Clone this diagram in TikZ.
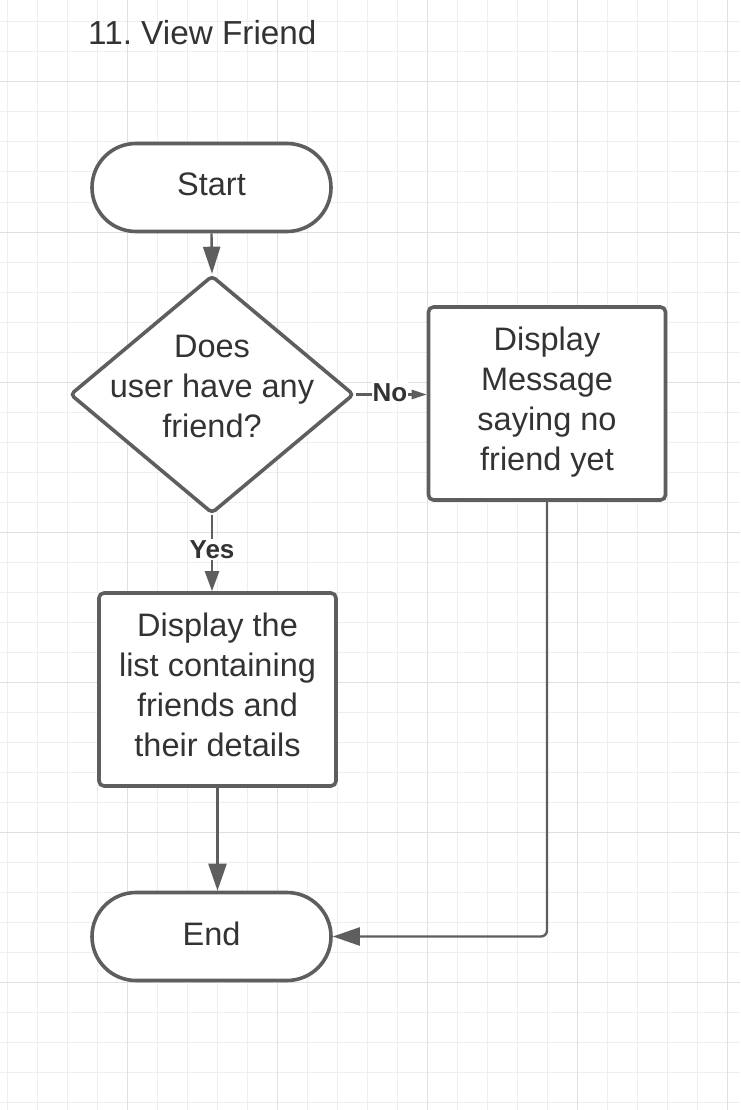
\documentclass[tikz,border=0pt]{standalone}
\usepackage{fontspec}
\setmainfont{Liberation Sans}
\usetikzlibrary{arrows.meta,shapes.geometric}
\definecolor{strokec}{RGB}{94,94,94}
\definecolor{textc}{RGB}{51,51,51}
\definecolor{gridminor}{RGB}{238,238,238}
\definecolor{gridmajor}{RGB}{224,224,224}
\tikzset{
  minorline/.style={draw=gridminor,line width=1pt},
  majorline/.style={draw=gridmajor,line width=1pt},
  body/.style={font=\fontsize{32.5}{40}\selectfont,text=textc,align=center},
  term/.style={draw=strokec,line width=3.6pt,fill=white,rectangle,rounded corners=44pt,minimum width=239pt,minimum height=88pt,inner sep=0pt},
  procbox/.style={draw=strokec,line width=3.6pt,fill=white,rectangle,rounded corners=5pt,minimum width=237pt,minimum height=193pt,inner sep=0pt},
  decision/.style={draw=strokec,line width=3.6pt,fill=white,diamond,rounded corners=4pt,minimum width=284pt,minimum height=238pt,inner sep=0pt},
  conn/.style={draw=strokec,line width=2.4pt},
  lbl/.style={font=\fontsize{26}{30}\bfseries,text=textc,fill=white,inner sep=1pt},
}
\begin{document}
\frenchspacing
\begin{tikzpicture}[x=1pt,y=-1pt]
\useasboundingbox (0,0) rectangle (740,1110);
\fill[white] (0,0) rectangle (740,1110);
% grid
\foreach \x in {7,37,...,727} \draw[minorline] (\x,0) -- (\x,1110);
\foreach \y in {22,52,...,1102} \draw[minorline] (0,\y) -- (740,\y);
\foreach \x in {127,277,...,727} \draw[majorline] (\x,0) -- (\x,1110);
\foreach \y in {82,232,...,982} \draw[majorline] (0,\y) -- (740,\y);
% title
\node[text=textc,font=\fontsize{33.3}{40}\selectfont,anchor=west,inner sep=0pt] (title) at (88,33) {11. View Friend};
% nodes
\node[term] (start) at (211.5,187.5) {};
\node[body,inner sep=0pt] (startt) at (211.5,184.5) {Start};
\node[decision] (q) at (212,394.5) {};
\node[body,inner sep=0pt] (qt) at (212,386) {Does\\user have any\\friend?};
\node[procbox] (msg) at (547,403.5) {};
\node[body,inner sep=0pt] (msgt) at (547,402) {Display\\Message\\saying no\\friend yet};
\node[procbox] (list) at (217.5,689.5) {};
\node[body,inner sep=0pt] (listt) at (217.5,684.5) {Display the\\list containing\\friends and\\their details};
\node[term] (end) at (211.5,936.5) {};
\node[body,inner sep=0pt] (endt) at (211.5,933.5) {End};
% connectors
\draw[conn,-{Triangle[length=27pt,width=17pt]}] (start.south) -- (q.north);
\draw[conn,-{Triangle[length=15pt,width=9pt]}] (q.east) -- node[lbl,pos=0.48,yshift=2pt] (nolbl) {No} (q.east -| msg.west);
\draw[conn,-{Triangle[length=20pt,width=14pt]}] (q.south) -- node[lbl,pos=0.45] (yeslbl) {Yes} (q.south |- list.north);
\draw[conn,-{Triangle[length=27pt,width=18pt]}] (list.south) -- (list.south |- end.north);
\draw[conn,rounded corners=6pt,-{Triangle[length=27pt,width=18pt]}] (msg.south) -- (msg.south |- end.east) -- (end.east);
\end{tikzpicture}
\end{document}
